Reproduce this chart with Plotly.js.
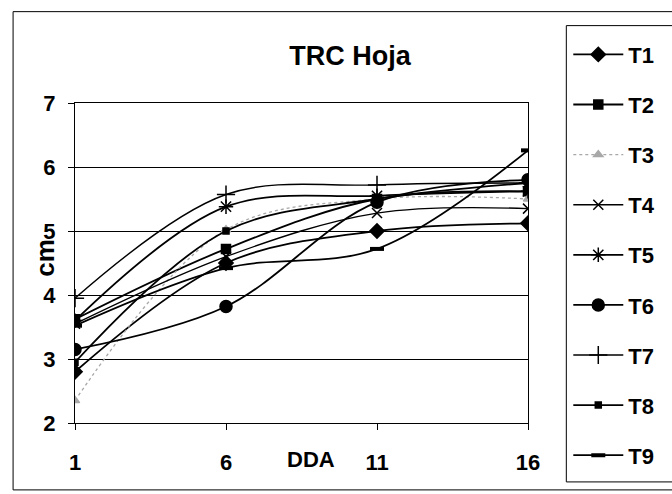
<!DOCTYPE html>
<html>
<head>
<meta charset="utf-8">
<script src="https://cdn.plot.ly/plotly-3.0.1.min.js"></script>
<style>html,body{margin:0;padding:0;background:#fff;}#chart{width:672px;height:494px;}</style>
</head>
<body>
<div id="chart"></div>
<script>
// Days after (DDA) and leaf growth values (cm)
const days = [1, 6, 11, 16];
const seriesNames = ["T1", "T2", "T3", "T4", "T5", "T6", "T7", "T8", "T9"];
const T1 = [2.80, 4.50, 5.00, 5.12];
const T2 = [3.62, 4.72, 5.50, 5.62];
const T3 = [2.35, 5.02, 5.50, 5.50];
const T4 = [3.55, 4.60, 5.28, 5.35];
const T5 = [3.60, 5.38, 5.55, 5.62];
const T6 = [3.15, 3.82, 5.45, 5.80];
const T7 = [3.95, 5.57, 5.72, 5.75];
const T8 = [2.95, 5.00, 5.50, 5.75];
const T9 = [3.52, 4.42, 4.72, 6.26];
const values = [T1, T2, T3, T4, T5, T6, T7, T8, T9];
const yTicks = [2, 3, 4, 5, 6, 7];

const styles = [
  {symbol: "diamond", size: 11, color: "#000", lw: 1.8},
  {symbol: "square", size: 9, color: "#000", lw: 1.8},
  {symbol: "triangle-up", size: 8, color: "#a8a8a8", lw: 1.3, dash: "dot"},
  {symbol: "x-thin-open", size: 10, color: "#000", lw: 1.4},
  {symbol: "asterisk-open", size: 12, color: "#000", lw: 1.8},
  {symbol: "circle", size: 12, color: "#000", lw: 1.8},
  {symbol: "cross-thin-open", size: 13, color: "#000", lw: 1.4},
  {symbol: "square", size: 6, color: "#000", lw: 1.8},
  {symbol: "line-ew-open", size: 10, color: "#000", lw: 1.8}
];

const FONT = "Liberation Sans, Arial, sans-serif";

const traces = seriesNames.map((name, i) => {
  const s = styles[i];
  return {
    x: days, y: values[i], name: name, legendgroup: name,
    type: "scatter", mode: "lines+markers",
    line: {color: s.color, width: s.lw, shape: "spline", smoothing: 1, dash: s.dash || "solid"},
    marker: {symbol: s.symbol, size: s.size, color: s.color,
             line: {color: s.color, width: (s.symbol === "line-ew-open") ? 4 : 1.5}}
  };
});

const L = 75, R = 536, T = 102.5, B = 423;
const W = 672, H = 494;
const pw = R - L, ph = B - T;
const px2x = p => (p - L) / pw;
const py2y = p => (B - p) / ph;

const layout = {
  width: W, height: H,
  margin: {l: L, r: W - R, t: T, b: H - B, pad: 0},
  paper_bgcolor: "#fff", plot_bgcolor: "#fff",
  font: {family: FONT, color: "#000"},
  title: {text: "<b>TRC Hoja</b>", font: {family: FONT, size: 27, color: "#000"},
          x: 350 / W, xanchor: "center", xref: "container",
          y: 1 - 56 / H, yanchor: "middle", yref: "container"},
  xaxis: {range: [1, 16], tickvals: days, ticktext: days.map(String),
          showgrid: false, zeroline: false,
          showline: true, linecolor: "#000", linewidth: 1, mirror: true,
          ticks: "outside", ticklen: 6, tickcolor: "#000",
          ticklabelstandoff: 14,
          tickfont: {family: FONT, size: 22, color: "#000", weight: "bold"}},
  yaxis: {range: [2, 7], tickvals: yTicks, showgrid: true, gridcolor: "#000", gridwidth: 1,
          zeroline: false, showline: true, linecolor: "#000", linewidth: 1, mirror: true,
          ticks: "outside", ticklen: 6, tickcolor: "#000",
          ticklabelstandoff: 8,
          tickfont: {family: FONT, size: 22, color: "#000", weight: "bold"}},
  legend: {x: px2x(577), xanchor: "left", y: py2y(33), yanchor: "top",
           bgcolor: "rgba(0,0,0,0)", borderwidth: 0,
           traceorder: "grouped", tracegroupgap: 18.5, itemwidth: 50,
           maxheight: 470,
           font: {family: FONT, size: 22, color: "#000", weight: "bold"}},
  showlegend: true,
  annotations: [
    {text: "<b>DDA</b>", xref: "paper", yref: "paper", x: px2x(315), y: py2y(460),
     xanchor: "center", yanchor: "middle", showarrow: false,
     font: {family: FONT, size: 22, color: "#000"}},
    {text: "<b>cm</b>", xref: "paper", yref: "paper", x: px2x(45), y: py2y(258),
     xanchor: "center", yanchor: "middle", showarrow: false, textangle: -90,
     font: {family: FONT, size: 26, color: "#000"}}
  ],
  shapes: [
    {type: "rect", xref: "paper", yref: "paper",
     x0: px2x(12), x1: px2x(700), y0: py2y(490), y1: py2y(11),
     line: {color: "#000", width: 1}, layer: "below"},
    {type: "rect", xref: "paper", yref: "paper",
     x0: px2x(575), x1: px2x(700), y0: py2y(482), y1: py2y(25),
     line: {color: "#000", width: 1}, fillcolor: "rgba(0,0,0,0)", layer: "below"}
  ]
};

Plotly.newPlot("chart", traces, layout, {displayModeBar: false, staticPlot: true});
</script>
</body>
</html>
